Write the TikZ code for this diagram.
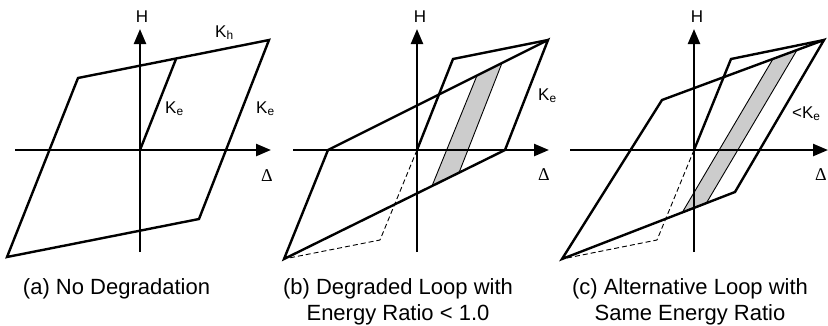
\documentclass[tikz,border=0pt]{standalone}
\usepackage{fontspec}
\setmainfont{Liberation Sans}
\newfontfamily\symfont{Liberation Serif}
\usetikzlibrary{positioning,arrows.meta}

\begin{document}
\begin{tikzpicture}[x=1pt, y=-1pt,
  loopline/.style={line width=2.4pt},
  thinline/.style={line width=0.9pt},
  dashline/.style={line width=0.9pt, dash pattern=on 5pt off 3pt},
  axis/.style={line width=2.4pt, -{Triangle[length=15pt,width=12pt]}},
  band/.style={fill=black!20, draw, line width=0.9pt},
  lbl/.style={font=\fontsize{17}{20}\selectfont, inner sep=0pt},
  dlt/.style={font=\symfont\fontsize{18}{20}\selectfont, inner sep=0pt},
  caption/.style={font=\fontsize{22}{26}\selectfont, align=center,
                  inner sep=0pt, anchor=north},
  ]
  \useasboundingbox (0,0) rectangle (828,325);

  % (a) no degradation
  \coordinate (a-o) at (140,150);
  \coordinate (a-b) at (7,257);
  \coordinate (a-l) at (78,78);
  \coordinate (a-t) at (269,40);
  \coordinate (a-r) at (199,219);
  \coordinate (a-k) at (176,59);
  \coordinate (a-xs) at (15,150);
  \coordinate (a-xe) at (271,150);
  \coordinate (a-ys) at (140,252);
  \coordinate (a-ye) at (140,29);

  \draw[axis] (a-xs) -- (a-xe);
  \draw[axis] (a-ys) -- (a-ye);
  \draw[loopline] (a-b) -- (a-l) -- (a-t) -- (a-r) -- cycle;
  \draw[loopline] (a-o) -- (a-k);

  \node[lbl] (a-h) at (142,17) {H};
  \node[dlt] (a-d) at (267,176) {Δ};
  \node[lbl, anchor=base west] (a-kh) at (215,37) {K\textsubscript{h}};
  \node[lbl, anchor=base west] (a-ke1) at (165,113) {K\textsubscript{e}};
  \node[lbl, anchor=base west] (a-ke2) at (256,113) {K\textsubscript{e}};
  \node[caption] (a-cap) at (116.5,278) {(a) No Degradation};

  % (b) degraded loop
  \coordinate (b-o) at (417,150);
  \coordinate (b-b) at (284,259);
  \coordinate (b-l) at (328,150);
  \coordinate (b-t) at (548,40);
  \coordinate (b-r) at (505,150);
  \coordinate (b-k) at (453,59);
  \coordinate (b-dn) at (380,240);
  \coordinate (b-xs) at (293,150);
  \coordinate (b-xe) at (549,150);
  \coordinate (b-ys) at (417,252);
  \coordinate (b-ye) at (417,29);

  \draw[band] (432,186) -- (477,75.5) -- (502,63) -- (459,172.7) -- cycle;
  \draw[axis] (b-xs) -- (b-xe);
  \draw[axis] (b-ys) -- (b-ye);
  \draw[loopline] (b-b) -- (b-l) -- (b-t) -- (b-r) -- cycle;
  \draw[loopline] (b-o) -- (b-k) -- (b-t);
  \draw[dashline] (b-o) -- (b-dn) -- (b-b);

  \node[lbl] (b-h) at (420,17) {H};
  \node[dlt] (b-d) at (544,175) {Δ};
  \node[lbl, anchor=base west] (b-ke) at (538,100) {K\textsubscript{e}};
  \node[caption] (b-cap) at (398,278) {(b) Degraded Loop with\\Energy Ratio < 1.0};

  % (c) alternative loop
  \coordinate (c-o) at (694,150);
  \coordinate (c-b) at (562,259);
  \coordinate (c-l) at (662,100);
  \coordinate (c-t) at (824,40);
  \coordinate (c-r) at (735,192);
  \coordinate (c-k) at (731,59);
  \coordinate (c-dn) at (657,240);
  \coordinate (c-xs) at (570,150);
  \coordinate (c-xe) at (828,150);
  \coordinate (c-ys) at (694,252);
  \coordinate (c-ye) at (694,29);

  \draw[band] (682,212.9) -- (773,58.9) -- (797,50) -- (706,203.7) -- cycle;
  \draw[axis] (c-xs) -- (c-xe);
  \draw[axis] (c-ys) -- (c-ye);
  \draw[loopline] (c-b) -- (c-l) -- (c-t) -- (c-r) -- cycle;
  \draw[loopline] (c-o) -- (c-k) -- (c-t);
  \draw[dashline] (c-o) -- (c-dn) -- (c-b);

  \node[lbl] (c-h) at (697,17) {H};
  \node[dlt] (c-d) at (821,175) {Δ};
  \node[lbl, anchor=base west] (c-ke) at (792,118) {<K\textsubscript{e}};
  \node[caption] (c-cap) at (690,278) {(c) Alternative Loop with\\Same Energy Ratio};
\end{tikzpicture}
\end{document}
